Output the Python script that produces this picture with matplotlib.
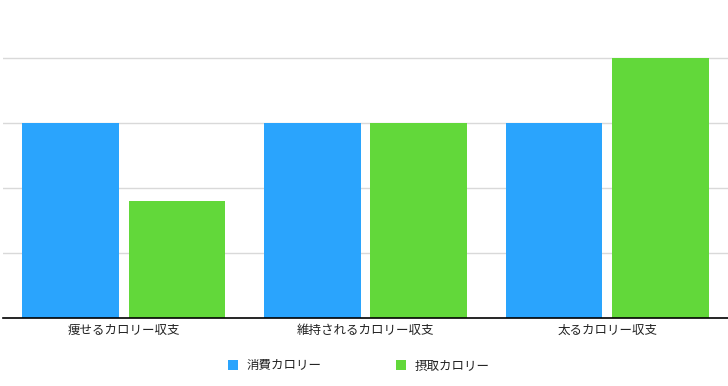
import matplotlib
matplotlib.use("Agg")
import matplotlib.pyplot as plt
import numpy as np

plt.rcParams['font.family'] = ['Noto Sans CJK JP', 'DejaVu Sans']

categories = ["痩せるカロリー収支", "維持されるカロリー収支", "太るカロリー収支"]
burned = [3.0, 3.0, 3.0]
intake = [1.8, 3.0, 4.0]
series_names = ["消費カロリー", "摂取カロリー"]
colors = ["#2AA4FD", "#62D83A"]

W, H = 728, 386
fig = plt.figure(figsize=(W / 100, H / 100), dpi=100)
ax = fig.add_axes([3 / W, (H - 318) / H, 725 / W, 318 / H])

x = np.arange(len(categories))
bw = 0.40
off = 0.22
ax.bar(x - off, burned, bw, color=colors[0], label=series_names[0], zorder=3)
ax.bar(x + off, intake, bw, color=colors[1], label=series_names[1], zorder=3)

ax.set_xlim(-0.5, 2.5)
ax.set_ylim(0, 318 / 65)
ax.set_yticks([1, 2, 3, 4])
ax.yaxis.grid(True, color="#d9d9d9", linewidth=1, zorder=0)
ax.tick_params(axis="y", length=0, labelleft=False)
ax.set_xticks(x)
ax.set_xticklabels(categories, fontsize=9, color="#222222")
ax.tick_params(axis="x", length=0, pad=4)
for side in ["top", "right", "left"]:
    ax.spines[side].set_visible(False)
ax.spines["bottom"].set_color("#000000")
ax.spines["bottom"].set_linewidth(1.2)
ax.spines["bottom"].set_zorder(4)

fig.legend(loc="center", bbox_to_anchor=(0.493, 1 - 366 / H), ncol=2, frameon=False,
           fontsize=9, handlelength=0.8, handleheight=0.8, handletextpad=0.7,
           columnspacing=5.9, labelcolor="#222222")

fig.savefig("out.png", dpi=100)
